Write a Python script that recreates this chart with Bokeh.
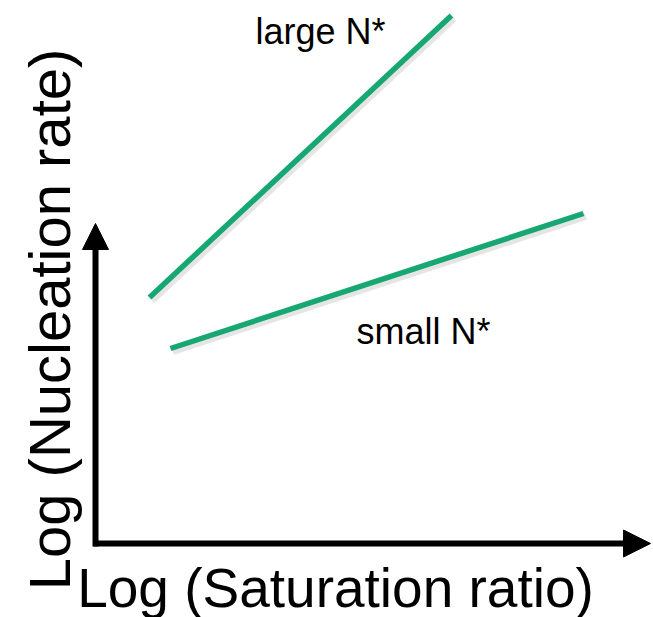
import numpy as np
from bokeh.plotting import figure
from bokeh.models import Range1d, Arrow, NormalHead, Label
from bokeh.embed import file_html
from bokeh.resources import INLINE

# Schematic data (arbitrary log units, origin at the axes corner)
large_x = [54, 356]
large_y = [246, 528]
small_x = [75, 488]
small_y = [195, 330]
x_axis_len = 555
y_axis_len = 320

x_label = "Log (Saturation ratio)"
y_label = "Log (Nucleation rate)"
large_label = "large N*"
small_label = "small N*"

GREEN = "#17a773"
FONT = "Liberation Sans"

p = figure(width=653, height=617, output_backend="svg", toolbar_location=None,
           x_range=Range1d(-95, 558), y_range=Range1d(-74, 543),
           min_border=0, min_border_left=0, min_border_right=0,
           min_border_top=0, min_border_bottom=0)
p.axis.visible = False
p.grid.visible = False
p.outline_line_color = None
p.background_fill_color = "white"
p.border_fill_color = "white"

# soft shadows
for xs, ys in [(large_x, large_y), (small_x, small_y)]:
    p.line(np.array(xs) + 2.5, np.array(ys) - 3, line_width=7, line_color="black",
           line_alpha=0.10)
# lines
p.line(large_x, large_y, line_width=5.5, line_color=GREEN)
p.line(small_x, small_y, line_width=5.5, line_color=GREEN)

# axes arrows
p.add_layout(Arrow(x_start=-2, y_start=0, x_end=x_axis_len, y_end=0,
                   line_width=6, line_color="black",
                   end=NormalHead(size=27, fill_color="black", line_color="black")))
p.add_layout(Arrow(x_start=0, y_start=-3, x_end=0, y_end=y_axis_len,
                   line_width=6, line_color="black",
                   end=NormalHead(size=26, fill_color="black", line_color="black")))

# texts
p.add_layout(Label(x=160, y=512, text=large_label, text_font=FONT,
                   text_font_size="36px", text_color="black",
                   text_align="left", text_baseline="alphabetic"))
p.add_layout(Label(x=261, y=212, text=small_label, text_font=FONT,
                   text_font_size="36px", text_color="black",
                   text_align="left", text_baseline="alphabetic"))
p.add_layout(Label(x=240, y=-44, text=x_label, text_font=FONT,
                   text_font_size="55px", text_color="black",
                   text_align="center", text_baseline="alphabetic"))
p.add_layout(Label(x=-46, y=224, text=y_label, text_font=FONT,
                   text_font_size="58px", text_color="black", angle=np.pi / 2,
                   text_align="center", text_baseline="alphabetic"))

open("out.html", "w").write(file_html(p, INLINE))
